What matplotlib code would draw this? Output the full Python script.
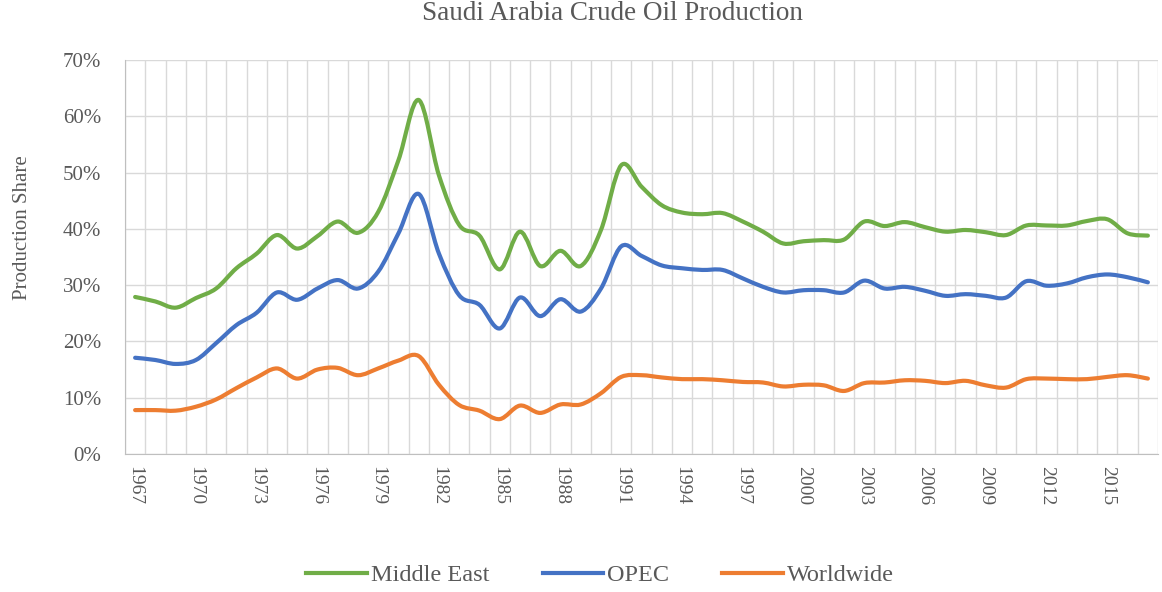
import numpy as np
import matplotlib.pyplot as plt
from matplotlib.ticker import FuncFormatter, MultipleLocator
from matplotlib.path import Path
from matplotlib.patches import PathPatch
from matplotlib.lines import Line2D

plt.rcParams['font.family'] = ['Liberation Serif', 'DejaVu Serif']

# years 1967..2017
years = list(range(1967, 2018))

# production share in %
middle_east = [27.9, 27.1, 26.0, 27.7, 29.4, 33.0, 35.6, 38.9, 36.5, 38.7,
               41.3, 39.3, 43.0, 52.2, 62.9, 49.5, 40.7, 38.8, 32.8, 39.5,
               33.4, 36.1, 33.4, 39.8, 51.3, 47.5, 44.2, 42.9, 42.6, 42.8,
               41.3, 39.5, 37.4, 37.8, 38.0, 38.1, 41.3, 40.5, 41.2, 40.3,
               39.5, 39.8, 39.4, 38.9, 40.6, 40.6, 40.6, 41.4, 41.7, 39.2,
               38.8]
opec = [17.1, 16.7, 16.0, 16.7, 19.7, 22.9, 25.1, 28.7, 27.4, 29.4,
        30.9, 29.4, 32.4, 39.2, 46.2, 35.6, 28.2, 26.5, 22.3, 27.8,
        24.5, 27.5, 25.3, 29.4, 36.9, 35.2, 33.5, 33.0, 32.7, 32.7,
        31.2, 29.7, 28.7, 29.1, 29.1, 28.7, 30.8, 29.4, 29.7, 29.0,
        28.1, 28.4, 28.1, 27.8, 30.7, 29.9, 30.3, 31.4, 31.9, 31.4,
        30.5]
worldwide = [7.8, 7.8, 7.7, 8.4, 9.7, 11.7, 13.6, 15.2, 13.4, 15.0,
             15.3, 14.0, 15.2, 16.6, 17.4, 12.3, 8.7, 7.7, 6.2, 8.6,
             7.3, 8.8, 8.8, 10.8, 13.7, 14.0, 13.6, 13.3, 13.3, 13.1,
             12.8, 12.7, 12.0, 12.3, 12.2, 11.2, 12.6, 12.7, 13.1, 13.0,
             12.6, 13.0, 12.2, 11.8, 13.3, 13.4, 13.3, 13.3, 13.7, 14.0,
             13.4]

series = [("Middle East", middle_east, "#70AD47"),
          ("OPEC", opec, "#4472C4"),
          ("Worldwide", worldwide, "#ED7D31")]


def smooth_path(xs, ys):
    # excel-like smoothed line: bezier segments through the data points
    pts = np.column_stack([xs, ys])
    verts = [pts[0]]
    codes = [Path.MOVETO]
    n = len(pts)
    for i in range(n - 1):
        p0 = pts[max(i - 1, 0)]
        p1 = pts[i]
        p2 = pts[i + 1]
        p3 = pts[min(i + 2, n - 1)]
        c1 = p1 + (p2 - p0) / 6
        c2 = p2 - (p3 - p1) / 6
        verts += [c1, c2, p2]
        codes += [Path.CURVE4] * 3
    return Path(verts, codes)


fig = plt.figure(figsize=(11.62, 5.92), dpi=100)
ax = fig.add_axes([125/1162, 1-454/592, 1033/1162, 394/592])

x = np.arange(len(years))
handles = []
for name, vals, col in series:
    p = smooth_path(x, np.array(vals)/100)
    ax.add_patch(PathPatch(p, facecolor='none', edgecolor=col, lw=3,
                           capstyle='round', joinstyle='round'))
    handles.append(Line2D([], [], color=col, lw=3, label=name))

ax.set_xlim(-0.5, len(years)-0.5)
ax.set_ylim(0, 0.7)

# y axis
ax.yaxis.set_major_locator(MultipleLocator(0.1))
ax.yaxis.set_major_formatter(FuncFormatter(lambda v, p: f"{v*100:.0f}%"))
ax.tick_params(axis='y', length=0, pad=17, labelsize=15, labelcolor='#595959')
ax.grid(axis='y', color='#D9D9D9', lw=1)

# x axis: gridlines between categories, labels every 3 years
ax.set_xticks(x[::3])
ax.set_xticklabels([str(y) for y in years[::3]], rotation=-90, va='top')
ax.set_xticks(np.arange(len(years)+1)-0.5, minor=True)
ax.grid(axis='x', which='minor', color='#D9D9D9', lw=1)
ax.tick_params(axis='x', which='both', length=0, pad=9, labelsize=14,
               labelcolor='#595959')

for s in ['top', 'right']:
    ax.spines[s].set_visible(False)
for s in ['left', 'bottom']:
    ax.spines[s].set_color('#BFBFBF')
ax.set_axisbelow(True)

ax.set_ylabel("Production Share", fontsize=15, color='#595959')
ax.yaxis.set_label_coords(-0.090, 0.574)

fig.text(612/1162, 1-14/592, "Saudi Arabia Crude Oil Production",
         ha='center', va='center', fontsize=19.5, color='#595959')

fig.legend(handles=handles, loc='center', bbox_to_anchor=(600/1162, 1-575/592),
           ncol=3, frameon=False, fontsize=17.5, handlelength=2.5,
           handletextpad=0.15, columnspacing=2.2, labelcolor='#595959')

plt.savefig('out.png', dpi=100)
